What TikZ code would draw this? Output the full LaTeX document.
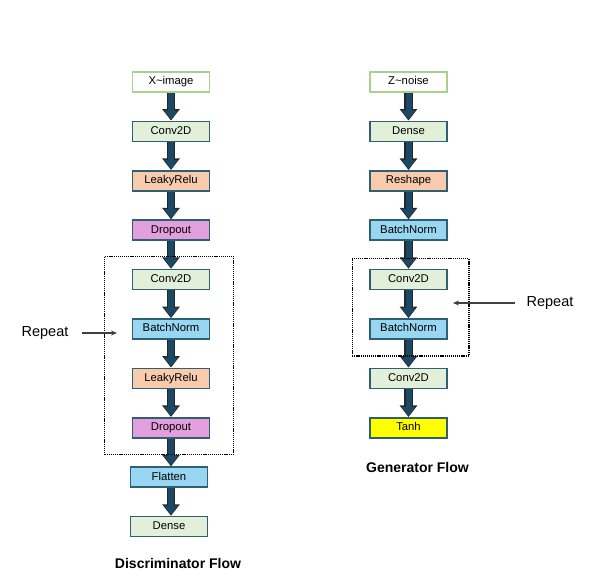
\documentclass[tikz,border=0pt]{standalone}
\usepackage{fontspec}
\setmainfont{Liberation Sans}
\usepackage{xcolor}
\usepackage{tikz}
\usetikzlibrary{arrows.meta,positioning,fit}
\definecolor{boxline}{HTML}{2F5F73}
\definecolor{startline}{HTML}{A9D18E}
\definecolor{greenfill}{HTML}{E2F0D9}
\definecolor{salmonfill}{HTML}{F8CBAD}
\definecolor{bluefill}{HTML}{99D6F2}
\definecolor{pinkfill}{HTML}{E39FDD}
\definecolor{yellowfill}{HTML}{FFFF00}
\definecolor{arrowteal}{HTML}{1B4965}
\tikzset{
  base/.style={align=center, font=\fontsize{11.3}{13}\selectfont, text=black},
  layer/.style={base, rectangle, draw=boxline, line width=1.7pt, minimum width=77pt, minimum height=20pt, inner sep=1pt, text height=7.8pt, text depth=2.2pt},
  inputlayer/.style={layer, draw=startline, fill=white},
  conv/.style={layer, fill=greenfill},
  act/.style={layer, fill=salmonfill},
  norm/.style={layer, fill=bluefill},
  drop/.style={layer, fill=pinkfill},
  outlayer/.style={layer, fill=yellowfill},
  repeatbox/.style={draw=black, line width=1.3pt, dash pattern=on 1.2pt off 0.9pt},
  flowback/.style={draw=black!85, line width=8.5pt, -{Triangle[width=17pt,length=11.5pt]}},
  flowfront/.style={draw=arrowteal, line width=6pt, shorten >=1.2pt, -{Triangle[width=13.5pt,length=9pt]}},
  pointer/.style={-{Stealth[length=6pt,width=5pt]}, line width=1.1pt, draw=black!75},
  label_text/.style={font=\fontsize{14.5}{16}\selectfont},
  title_text/.style={font=\bfseries\fontsize{14}{16}\selectfont}
}

\begin{document}
\begin{tikzpicture}[x=1pt, y=-1pt, node distance=27.7pt]
  \useasboundingbox (0,0) rectangle (614,578);

  % Discriminator column
  \node[inputlayer] (dimg) at (171,82) {X\string~image};
  \node[conv, below=of dimg] (dconva) {Conv2D};
  \node[act, below=of dconva] (dleaka) {LeakyRelu};
  \node[drop, below=of dleaka] (ddropa) {Dropout};
  \node[conv, below=of ddropa] (dconvb) {Conv2D};
  \node[norm, below=of dconvb] (dnorm) {BatchNorm};
  \node[act, below=of dnorm] (dleakb) {LeakyRelu};
  \node[drop, below=of dleakb] (ddropb) {Dropout};
  \node[norm, below=of ddropb, xshift=-2pt] (dflat) {Flatten};
  \node[conv, below=of dflat] (ddense) {Dense};
  \node[title_text] (dtitle) at (178,563) {Discriminator Flow};

  % Generator column
  \node[inputlayer] (gnoise) at (408.5,82) {Z\string~noise};
  \node[conv, below=of gnoise] (gdense) {Dense};
  \node[act, below=of gdense] (greshape) {Reshape};
  \node[norm, below=of greshape] (gnorma) {BatchNorm};
  \node[conv, below=of gnorma] (gconva) {Conv2D};
  \node[norm, below=of gconva] (gnormb) {BatchNorm};
  \node[conv, below=of gnormb] (gconvb) {Conv2D};
  \node[outlayer, below=of gconvb] (gtanh) {Tanh};
  \node[title_text] (gtitle) at (417.5,467) {Generator Flow};

  % Flow arrows
  \foreach \a/\b in {dimg/dconva, dconva/dleaka, dleaka/ddropa, ddropa/dconvb, dconvb/dnorm,
                     dnorm/dleakb, dleakb/ddropb, gnoise/gdense, gdense/greshape,
                     greshape/gnorma, gnorma/gconva, gconva/gnormb, gnormb/gconvb, gconvb/gtanh} {
    \draw[flowback] (\a) -- (\b);
    \draw[flowfront] (\a) -- (\b);
  }
  \draw[flowback] (ddropb.south -| dimg) -- (dflat.north -| dimg);
  \draw[flowfront] (ddropb.south -| dimg) -- (dflat.north -| dimg);
  \draw[flowback] (dflat.south -| dimg) -- (ddense.north -| dimg);
  \draw[flowfront] (dflat.south -| dimg) -- (ddense.north -| dimg);

  % Repeat blocks
  \node[repeatbox, fit=(dconvb) (ddropb), inner xsep=25pt, inner ysep=14pt, xshift=-2pt, yshift=-1.5pt] (drep) {};
  \node[repeatbox, fit=(gconva) (gnormb), inner xsep=19pt, inner ysep=13pt, xshift=2pt, yshift=-3pt] (grep) {};

  \node[label_text] (drepl) at (45,333) {Repeat};
  \coordinate (dreptip) at (117,333);
  \draw[pointer] (drepl.east) ++(10pt,0) -- (dreptip);

  \node[label_text] (grepl) at (550,303) {Repeat};
  \coordinate (greptip) at (453,303);
  \draw[pointer] (grepl.west) ++(-8pt,0) -- (greptip);

\end{tikzpicture}
\end{document}
